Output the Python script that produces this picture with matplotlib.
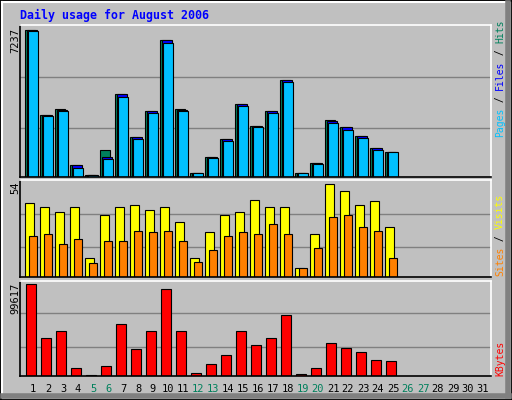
import matplotlib
matplotlib.use("Agg")
import matplotlib.pyplot as plt
from matplotlib.patches import Rectangle
import numpy as np

days = list(range(1, 32))
data_days = np.arange(1, 26)
weekend_days = [5, 6, 12, 13, 19, 20, 26, 27]

hits = [7237, 3052, 3315, 591, 115, 1329, 4086, 1969, 3249, 6745, 3315, 197, 1001,
        1887, 3594, 2511, 3249, 4775, 197, 689, 2773, 2462, 2018, 1444, 1231]
files = [7200, 3030, 3300, 580, 115, 1001, 4060, 1950, 3230, 6720, 3300, 197, 1001,
         1870, 3570, 2500, 3230, 4750, 197, 680, 2750, 2440, 2000, 1430, 1231]
pages = [7188, 3003, 3249, 459, 115, 886, 3938, 1871, 3151, 6597, 3249, 197, 935,
         1772, 3495, 2462, 3151, 4677, 197, 640, 2658, 2314, 1920, 1329, 1231]
visits = [43, 41, 38, 41, 11, 36, 41, 42, 39, 41, 32, 11, 26, 36, 38, 45, 41, 41,
          5, 25, 54, 50, 42, 44, 29]
sites = [24, 25, 19, 22, 8, 21, 21, 27, 26, 27, 21, 9, 16, 24, 26, 25, 31, 25,
         5, 17, 35, 36, 29, 27, 11]
kbytes = [99617, 41656, 48536, 9056, 1449, 11229, 55785, 28980, 48536, 93820, 48536,
          3622, 13403, 23184, 48536, 34051, 41656, 65568, 2536, 9056, 36225, 30790,
          26444, 17750, 16664]

W, H = 512, 400
BG = "#C0C0C0"
GREEN, BLUE, CYAN = "#00805C", "#0000FF", "#00C0FF"
YELLOW, ORANGE, RED = "#FFFF00", "#FF8000", "#FF0000"
mono = "DejaVu Sans Mono"

fig = plt.figure(figsize=(W / 100, H / 100), dpi=100, facecolor=BG)


def fx(px):
    return px / W


def fy(py):
    return 1 - py / H


# outer bevel
fig.add_artist(Rectangle((0, 0), 1, 1, transform=fig.transFigure, fill=False,
                         edgecolor="black", lw=2))
fig.add_artist(plt.Line2D([fx(2), fx(2)], [fy(395), fy(2)], color="white", lw=1.5))
fig.add_artist(plt.Line2D([fx(2), fx(509)], [fy(2), fy(2)], color="white", lw=1.5))
fig.add_artist(plt.Line2D([fx(3), fx(509)], [fy(396), fy(396)], color="#808080", lw=4))
fig.add_artist(plt.Line2D([fx(508), fx(508)], [fy(396), fy(3)], color="#808080", lw=4))


def panel(top, bottom):
    ax = fig.add_axes([fx(20), fy(bottom), fx(491) - fx(20), fy(top) - fy(bottom)])
    ax.set_facecolor(BG)
    ax.set_xlim(0.13, 31.53)
    ax.set_xticks([])
    ax.set_yticks([])
    for s in ("left", "bottom"):
        ax.spines[s].set_color("black")
    for s in ("top", "right"):
        ax.spines[s].set_color("white")
    for s in ax.spines.values():
        s.set_linewidth(1.2)
    return ax


def grid(ax, fracs):
    for f in fracs:
        ax.axhline(ax.get_ylim()[1] * f, color="#808080", lw=1, zorder=0)


# top panel: hits/files/pages
ax1 = panel(25, 177)
ax1.set_ylim(0, 7458)
grid(ax1, [0.66, 0.323])
bw = 0.67
ax1.bar(data_days - 0.53, hits, width=bw, align="edge", color=GREEN, edgecolor="black", lw=0.8)
ax1.bar(data_days - 0.42, files, width=bw, align="edge", color=BLUE, edgecolor="black", lw=0.8)
ax1.bar(data_days - 0.31, pages, width=bw, align="edge", color=CYAN, edgecolor="black", lw=0.8)

# middle panel: visits/sites
ax2 = panel(180, 277)
ax2.set_ylim(0, 56.5)
grid(ax2, [0.654, 0.31])
ax2.bar(data_days - 0.51, visits, width=0.55, align="edge", color=YELLOW, edgecolor="black", lw=0.8)
ax2.bar(data_days - 0.27, sites, width=0.53, align="edge", color=ORANGE, edgecolor="black", lw=0.8)

# bottom panel: kbytes
ax3 = panel(281, 376)
ax3.set_ylim(0, 102876)
grid(ax3, [0.66, 0.31])
ax3.bar(data_days - 0.45, kbytes, width=0.67, align="edge", color=RED, edgecolor="black", lw=0.8)

# day labels
for d in days:
    x = fx(33 + (d - 1) * 15)
    c = GREEN if d in weekend_days else "black"
    fig.text(x, fy(389), str(d), ha="center", va="center", color=c,
             family=mono, fontsize=7.5)

fig.text(fx(20), fy(15), "Daily usage for August 2006", color=BLUE, family=mono,
         fontsize=8.4, fontweight="bold", ha="left", va="center")

# max labels on the left
for txt, ytop in (("7237", 28), ("54", 181), ("99617", 283)):
    fig.text(fx(15), fy(ytop), txt, rotation=90, ha="center", va="top",
             family=mono, fontsize=7.5)


def side_label(pieces, ybottom):
    cw = 5.85
    pos = 0
    for txt, col in pieces:
        fig.text(fx(500), fy(ybottom - pos * cw), txt, rotation=90, color=col,
                 ha="center", va="bottom", family=mono, fontsize=7)
        pos += len(txt)


side_label([("Pages", CYAN), (" / ", "black"), ("Files", BLUE),
            (" / ", "black"), ("Hits", GREEN)], 137)
side_label([("Sites", ORANGE), (" / ", "black"), ("Visits", YELLOW)], 276)
side_label([("KBytes", RED)], 376)

fig.savefig("out.png", dpi=100, facecolor=BG)
